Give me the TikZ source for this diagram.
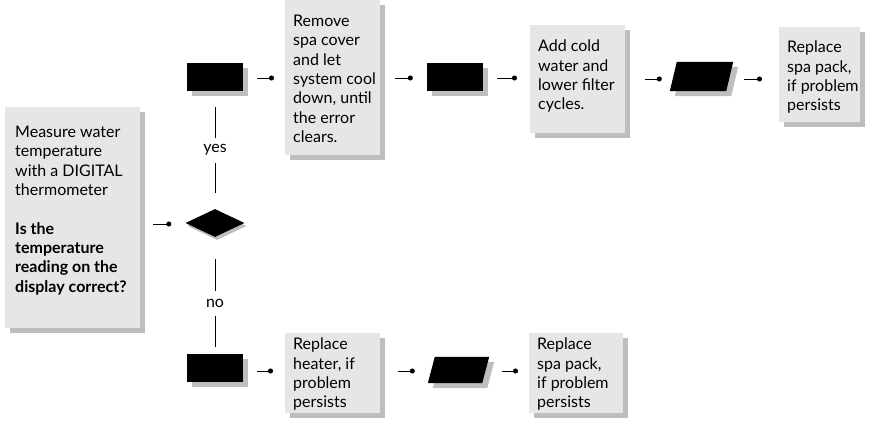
\documentclass[tikz,border=0pt]{standalone}
\usepackage{fontspec}
\setmainfont{Lato}
\usetikzlibrary{shapes.geometric,arrows.meta,shadows}
\definecolor{boxgray}{RGB}{230,230,230}
\definecolor{shadowgray}{RGB}{190,190,190}
\begin{document}
\begin{tikzpicture}[x=1pt,y=-1pt,
  gbox/.style={draw=none,fill=boxgray,minimum width=#1,inner sep=0pt,anchor=north west,
    drop shadow={shadow xshift=5pt,shadow yshift=-5pt,fill=shadowgray,opacity=1}},
  gbox/.default=95pt,
  btext/.style={anchor=north west,align=left,inner sep=0pt,font=\fontsize{16}{19.3}\selectfont},
  brect/.style={fill=black,minimum width=56pt,minimum height=28pt,inner sep=0pt,
    drop shadow={shadow xshift=5pt,shadow yshift=-5pt,fill=shadowgray,opacity=1}},
  pbox/.style={draw=none,minimum width=63pt,minimum height=29pt,inner sep=0pt},
  bdiam/.style={diamond,aspect=2,fill=black,minimum width=59pt,minimum height=28pt,inner sep=0pt,
    drop shadow={shadow xshift=2pt,shadow yshift=-3pt,fill=shadowgray,opacity=1}},
  conn/.style={line width=1pt,-{Circle[length=5pt]}},
  vline/.style={line width=1pt},
  lab/.style={fill=white,inner sep=0pt,minimum height=25pt,font=\fontsize{16}{19.3}\selectfont}
]
\useasboundingbox (0,0) rectangle (875,423);

% boxes
\node[gbox=135pt,minimum height=221pt] (L) at (5,107) {};
\node[btext] (Lt) at (15,126) {Measure water\\temperature\\with a DIGITAL\\thermometer\\[19.3pt]\textbf{Is the}\\\textbf{temperature}\\\textbf{reading on the}\\\textbf{display correct?}};

\node[gbox,minimum height=155pt] (B1) at (285,0) {};
\node[btext] at (293,15) {Remove\\spa cover\\and let\\system cool\\down, until\\the error\\clears.};

\node[gbox,minimum height=108pt] (B2) at (530,25) {};
\node[btext] at (538,40) {Add cold\\water and\\lower filter\\cycles.};

\node[gbox=81pt,minimum height=95pt] (B3) at (779,27) {};
\node[btext] at (787,41) {Replace\\spa pack,\\if problem\\persists};

\node[gbox,minimum height=80pt] (B4) at (285,333) {};
\node[btext] at (293,338) {Replace\\heater, if\\problem\\persists};

\node[gbox=94pt,minimum height=80pt] (B5) at (529,333) {};
\node[btext] at (537,338) {Replace\\spa pack,\\if problem\\persists};

% black shapes
\node[brect] (A1) at (215,77) {};
\node[brect] (A2) at (455,77) {};
\node[brect] (A3) at (215,368) {};
\node[bdiam] (D) at (215,223) {};

% parallelograms
\node[pbox] (P1) at (701.5,76.5) {};
\fill[shadowgray] ([shift={(5,5)}]P1.south west) -- ([shift={(12,5)}]P1.north west) -- ([shift={(5,5)}]P1.north east) -- ([shift={(-2,5)}]P1.south east) -- cycle;
\fill[black] (P1.south west) -- ([xshift=7pt]P1.north west) -- (P1.north east) -- ([xshift=-7pt]P1.south east) -- cycle;
\node[pbox,minimum width=61pt,minimum height=26pt] (P2) at (458.5,370) {};
\fill[shadowgray] ([shift={(5,5)}]P2.south west) -- ([shift={(12,5)}]P2.north west) -- ([shift={(5,5)}]P2.north east) -- ([shift={(-2,5)}]P2.south east) -- cycle;
\fill[black] (P2.south west) -- ([xshift=7pt]P2.north west) -- (P2.north east) -- ([xshift=-7pt]P2.south east) -- cycle;

% connectors
\draw[conn] ([xshift=13pt,yshift=-1pt]D.west -| L.east) -- ([xshift=-14pt,yshift=-1pt]D.west);
\draw[conn] ([xshift=14pt,yshift=-1pt]A1.east) -- ([xshift=-11pt,yshift=-1pt]A1.east -| B1.west);
\draw[conn] ([xshift=15pt,yshift=-1pt]A2.west -| B1.east) -- ([xshift=-14pt,yshift=-1pt]A2.west);
\draw[conn] ([xshift=14pt,yshift=-1pt]A2.east) -- ([xshift=-13pt,yshift=-1pt]A2.east -| B2.west);
\draw[conn] ([xshift=20pt,yshift=-2.5pt]P1.west -| B2.east) -- ([xshift=-8pt,yshift=-2.5pt]P1.west);
\draw[conn] ([xshift=11pt,yshift=-2.5pt]P1.east) -- ([xshift=-17pt,yshift=-2.5pt]P1.east -| B3.west);
\draw[conn] ([xshift=14pt,yshift=-3pt]A3.east) -- ([xshift=-12pt,yshift=-3pt]A3.east -| B4.west);
\draw[conn] ([xshift=18pt,yshift=-1pt]P2.west -| B4.east) -- ([xshift=-13pt,yshift=-1pt]P2.west);
\draw[conn] ([xshift=13pt,yshift=-1pt]P2.east) -- ([xshift=-11pt,yshift=-1pt]P2.east -| B5.west);

\draw[vline] ([yshift=16pt]D.north) -- node[lab] {yes} ([yshift=-16pt]A1.south);
\draw[vline] ([yshift=-22pt]D.south) -- node[lab] {no} ([yshift=7pt]A3.north);
\end{tikzpicture}
\end{document}
